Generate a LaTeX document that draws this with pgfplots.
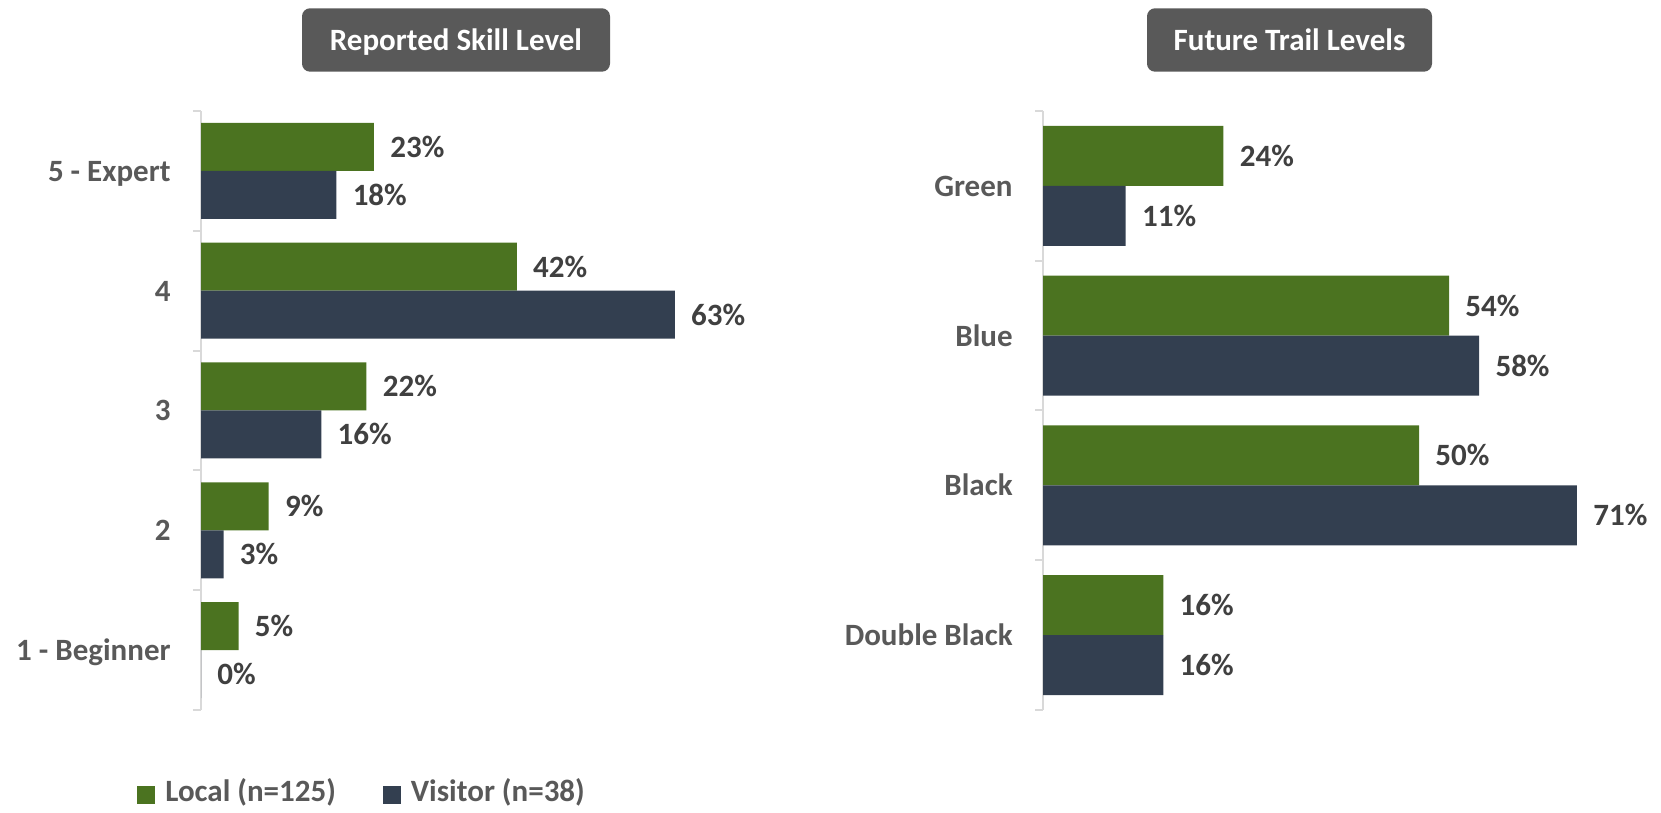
\documentclass[border=0pt]{standalone}
\usepackage{pgfplots}
\pgfplotsset{compat=1.18}
\usepackage{fontspec}
\setmainfont{Carlito}
\definecolor{cgreen}{HTML}{4B7320}
\definecolor{cnavy}{HTML}{333F50}
\definecolor{tgrey}{HTML}{595959}
\definecolor{vgrey}{HTML}{404040}
\definecolor{agrey}{HTML}{D9D9D9}
\begin{document}
\begin{tikzpicture}[font=\fontsize{15.5pt}{18pt}\selectfont\bfseries]
\pgfplotsset{
  mybar/.style={
    xbar, scale only axis, clip=false,
    xmin=0, enlarge y limits=false,
    axis x line=none, axis y line=left,
    axis line style={-, agrey, line width=1pt},
    major tick length=0pt, minor tick length=4pt, tick align=outside,
    minor tick style={agrey, line width=1pt},
    yticklabel style={text=tgrey, inner sep=0pt, xshift=-15pt, yshift=-2pt, text height=0.644em, text depth=0pt, anchor=east},
    point meta=x,
    nodes near coords={\pgfmathprintnumber[assume math mode=true]{\pgfplotspointmeta}\%},
    nodes near coords style={anchor=west, xshift=8pt, yshift=-2pt, inner sep=0pt, text=vgrey, text height=0.644em, text depth=0pt},
  },
}
% Left chart
\begin{axis}[mybar,
  at={(100.5pt,51.5pt)}, anchor=south west,
  width=263.2pt, height=299.5pt, xmax=70,
  ymin=0.5, ymax=5.5,
  ytick={1,2,3,4,5},
  yticklabels={1 - Beginner, 2, 3, 4, 5 - Expert},
  minor ytick={0.5,1.5,2.5,3.5,4.5,5.5},
  bar width=24pt,
  legend columns=2,
  legend image code/.code={\fill[#1] (0pt,-4.5pt) rectangle (9pt,4.5pt);},
  legend style={at={(-0.1216,-0.1420)}, anchor=west, draw=none, fill=none, inner sep=0pt,
    text=tgrey, nodes={inner sep=0pt, text height=0.644em, text depth=0pt},
    /tikz/every odd column/.append style={column sep=5pt},
    /tikz/every even column/.append style={column sep=23.5pt}},
]
\addplot[fill=cgreen, draw=none, bar shift=12pt] coordinates {(5,1) (9,2) (22,3) (42,4) (23,5)};
\addlegendentry{Local (n=125)}
\addplot[fill=cnavy, draw=none, bar shift=-12pt] coordinates {(0,1) (3,2) (16,3) (63,4) (18,5)};
\addlegendentry{Visitor (n=38)}
\end{axis}
% Right chart
\begin{axis}[mybar,
  at={(521.5pt,51.5pt)}, anchor=south west,
  width=300.8pt, height=299.5pt, xmax=80,
  ymin=0.5, ymax=4.5,
  ytick={1,2,3,4},
  yticklabels={Double Black, Black, Blue, Green},
  minor ytick={0.5,1.5,2.5,3.5,4.5},
  bar width=30pt,
]
\addplot[fill=cgreen, draw=none, bar shift=15pt] coordinates {(16,1) (50,2) (54,3) (24,4)};
\addplot[fill=cnavy, draw=none, bar shift=-15pt] coordinates {(16,1) (71,2) (58,3) (11,4)};
\end{axis}
% Title boxes
\node[fill=tgrey, rounded corners=4pt, minimum width=154pt, minimum height=31.7pt, inner sep=0pt] at (228pt,386.5pt) {};
\node[text=white, inner sep=0pt, text height=0.644em, text depth=0pt] at (228pt,384.5pt) {Reported Skill Level};
\node[fill=tgrey, rounded corners=4pt, minimum width=142.5pt, minimum height=31.7pt, inner sep=0pt] at (644.75pt,386.5pt) {};
\node[text=white, inner sep=0pt, text height=0.644em, text depth=0pt] at (644.75pt,384.5pt) {Future Trail Levels};
\pgfresetboundingbox
\path[use as bounding box] (0pt,0pt) rectangle (830.5pt,406.5pt);
\end{tikzpicture}
\end{document}
